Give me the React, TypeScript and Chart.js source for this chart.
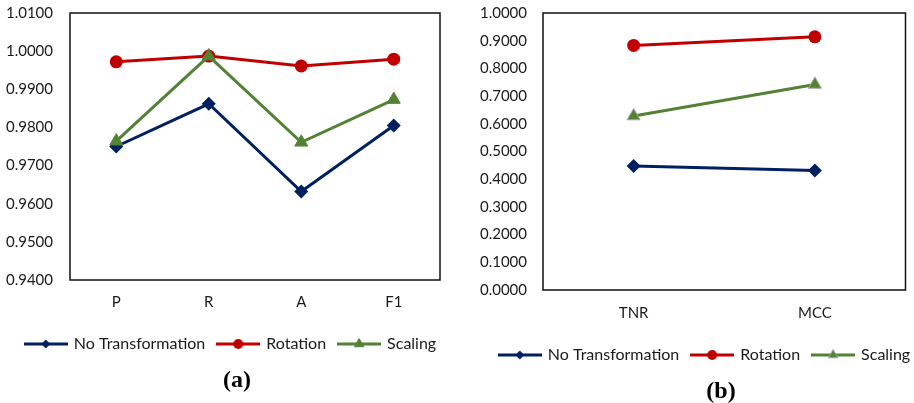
import React, { useEffect, useRef } from 'react';
import { Chart, registerables } from 'chart.js';

Chart.register(...registerables);

// ---------- data ----------
const seriesNames = ['No Transformation', 'Rotation', 'Scaling'];

const categoriesA = ['P', 'R', 'A', 'F1'];
const noTransformationA = [0.975, 0.9862, 0.9632, 0.9805];
const rotationA = [0.9972, 0.9987, 0.9961, 0.9979];
const scalingA = [0.9764, 0.9987, 0.9761, 0.9873];
const yRangeA = [0.94, 1.01];
const yStepA = 0.01;

const categoriesB = ['TNR', 'MCC'];
const noTransformationB = [0.448, 0.431];
const rotationB = [0.883, 0.914];
const scalingB = [0.628, 0.742];
const yRangeB = [0, 1];
const yStepB = 0.1;

const panelTitles = ['(a)', '(b)'];

// ---------- styles ----------
const COLORS = ['#002060', '#C00000', '#548235'];
const STYLES = ['rectRot', 'circle', 'triangle'];
const RADII = [7, 6.5, 7.5];
const FONT = 'Lato';
const TEXT = '#1a1a1a';

function legendImage(i: number, triBorder: string) {
  const c = document.createElement('canvas');
  c.width = 44;
  c.height = 14;
  const ctx = c.getContext('2d')!;
  ctx.strokeStyle = COLORS[i];
  ctx.lineWidth = 3;
  ctx.beginPath();
  ctx.moveTo(0, 7);
  ctx.lineTo(44, 7);
  ctx.stroke();
  ctx.fillStyle = COLORS[i];
  const cx = 22, cy = 7;
  ctx.beginPath();
  if (i === 0) {
    const r = 4.5;
    ctx.moveTo(cx, cy - r);
    ctx.lineTo(cx + r, cy);
    ctx.lineTo(cx, cy + r);
    ctx.lineTo(cx - r, cy);
    ctx.closePath();
    ctx.fill();
  } else if (i === 1) {
    ctx.arc(cx, cy, 5, 0, Math.PI * 2);
    ctx.fill();
  } else {
    const r = 5.5;
    ctx.moveTo(cx, cy - r);
    ctx.lineTo(cx + r * 0.866, cy + r * 0.5);
    ctx.lineTo(cx - r * 0.866, cy + r * 0.5);
    ctx.closePath();
    ctx.fill();
    ctx.strokeStyle = triBorder;
    ctx.lineWidth = 1;
    ctx.stroke();
  }
  return c;
}

const framePlugin = {
  id: 'frame',
  beforeDatasetsDraw(chart: any) {
    const { ctx, chartArea } = chart;
    const { left, top, right, bottom } = chartArea;
    ctx.save();
    ctx.strokeStyle = '#111';
    ctx.lineWidth = 1.5;
    ctx.strokeRect(left, top, right - left, bottom - top);
    ctx.restore();
  },
};

type PanelCfg = {
  categories: string[];
  series: number[][];
  yRange: number[];
  yStep: number;
  yAxisWidth: number;
  tickPad: number;
  padRight: number;
  padTop: number;
  padBottom: number;
  xAxisHeight: number;
  xTickPad: number;
  triBorder: string;
  legendShift: number;
};

function ChartPanel({ cfg, width, height }: { cfg: PanelCfg; width: number; height: number }) {
  const ref = useRef<HTMLCanvasElement>(null);
  useEffect(() => {
    const images = [0, 1, 2].map((i) => legendImage(i, cfg.triBorder));
    const shiftPlugin = {
      id: 'legendShift',
      afterLayout(chart: any) {
        if (chart.legend) {
          chart.legend.left += cfg.legendShift;
          chart.legend.right += cfg.legendShift;
        }
      },
    };
    const chart = new Chart(ref.current!, {
      type: 'line',
      data: {
        labels: cfg.categories,
        datasets: cfg.series.map((vals, i) => ({
          label: seriesNames[i],
          data: vals,
          borderColor: COLORS[i],
          backgroundColor: COLORS[i],
          pointBackgroundColor: COLORS[i],
          pointBorderColor: i === 2 ? cfg.triBorder : COLORS[i],
          pointBorderWidth: i === 2 ? 1 : 0,
          pointStyle: STYLES[i] as any,
          pointRadius: RADII[i],
          borderWidth: 3,
          tension: 0,
          fill: false,
          order: 2 - i,
        })),
      },
      options: {
        animation: false,
        responsive: false,
        maintainAspectRatio: false,
        layout: {
          padding: { left: 0, right: cfg.padRight, top: cfg.padTop, bottom: cfg.padBottom },
        },
        plugins: {
          tooltip: { enabled: false },
          title: { display: false },
          legend: {
            display: true,
            position: 'bottom',
            labels: {
              usePointStyle: true,
              pointStyleWidth: 40,
              boxHeight: 14,
              padding: 13,
              color: TEXT,
              font: { family: FONT, size: 16 },
              generateLabels: () =>
                seriesNames.map((name, i) => ({
                  text: name,
                  datasetIndex: i,
                  pointStyle: images[i],
                  fillStyle: COLORS[i],
                  strokeStyle: COLORS[i],
                  lineWidth: 0,
                  hidden: false,
                  fontColor: TEXT,
                })) as any,
            },
          },
        },
        scales: {
          x: {
            type: 'category',
            offset: true,
            grid: { display: false, drawTicks: false },
            border: { display: false },
            ticks: {
              padding: cfg.xTickPad,
              color: TEXT,
              font: { family: FONT, size: 15 },
              maxRotation: 0,
            },
            afterFit: (s: any) => {
              s.height = cfg.xAxisHeight;
            },
          },
          y: {
            min: cfg.yRange[0],
            max: cfg.yRange[1],
            grid: { display: false, drawTicks: false },
            border: { display: false },
            ticks: {
              stepSize: cfg.yStep,
              padding: cfg.tickPad,
              color: TEXT,
              font: { family: FONT, size: 15 },
              callback: (v: any) => Number(v).toFixed(4),
            },
            afterFit: (s: any) => {
              s.width = cfg.yAxisWidth;
              s.paddingTop = 9;
              s.paddingBottom = 9;
            },
          },
        },
      },
      plugins: [framePlugin, shiftPlugin],
    });
    return () => chart.destroy();
  }, [cfg]);
  return <canvas ref={ref} width={width} height={height} style={{ display: 'block', width, height }} />;
}

const cfgA: PanelCfg = {
  categories: categoriesA,
  series: [noTransformationA, rotationA, scalingA],
  yRange: yRangeA,
  yStep: yStepA,
  yAxisWidth: 70,
  tickPad: 17,
  padRight: 22,
  padTop: 13,
  padBottom: 41,
  xAxisHeight: 43,
  xTickPad: 13,
  triBorder: '#548235',
  legendShift: 11,
};

const cfgB: PanelCfg = {
  categories: categoriesB,
  series: [noTransformationB, rotationB, scalingB],
  yRange: yRangeB,
  yStep: yStepB,
  yAxisWidth: 81,
  tickPad: 16,
  padRight: 2,
  padTop: 13,
  padBottom: 30,
  xAxisHeight: 44,
  xTickPad: 14,
  triBorder: '#A5A5A5',
  legendShift: 18,
};

const titleStyle: React.CSSProperties = {
  position: 'absolute',
  width: 100,
  textAlign: 'center',
  fontFamily: '"Liberation Serif", "Times New Roman", serif',
  fontWeight: 'bold',
  fontSize: 24,
  lineHeight: '24px',
  color: '#000',
};

export default function App() {
  return (
    <div
      style={{
        position: 'absolute',
        left: 0,
        top: 0,
        width: 914,
        height: 403,
        overflow: 'hidden',
        background: '#fff',
      }}
    >
      <div style={{ position: 'absolute', left: 0, top: 0 }}>
        <ChartPanel cfg={cfgA} width={462} height={403} />
      </div>
      <div style={{ position: 'absolute', left: 462, top: 0 }}>
        <ChartPanel cfg={cfgB} width={452} height={403} />
      </div>
      <div style={{ ...titleStyle, left: 237 - 50, top: 379 - 12 }}>{panelTitles[0]}</div>
      <div style={{ ...titleStyle, left: 721 - 50, top: 390 - 12 }}>{panelTitles[1]}</div>
    </div>
  );
}
